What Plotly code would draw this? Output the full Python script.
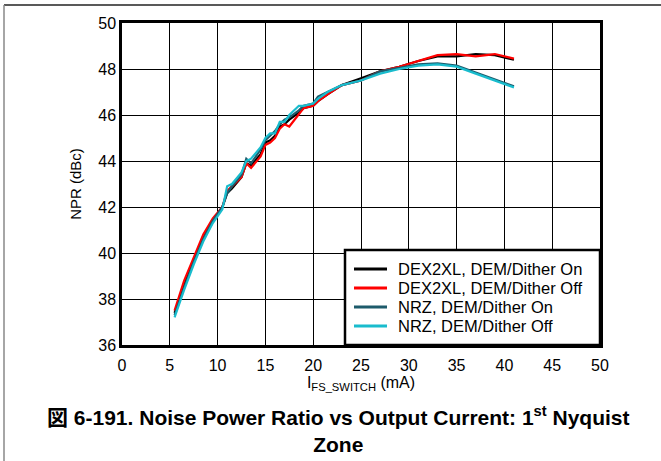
import plotly.graph_objects as go

# Output current (mA)
x_ma = [5.5, 6.5, 7.5, 8.5, 9.5, 10.5, 11.0, 11.5, 12.5, 13.0, 13.5, 14.5, 15.0, 15.5,
        16.0, 16.5, 17.0, 17.5, 18.5, 19.0, 20.0, 20.5, 21.5, 23.0, 25.0, 27.0, 29.0,
        31.0, 33.0, 35.0, 37.0, 39.0, 41.0]

dex_on = [37.4, 38.6, 39.7, 40.7, 41.4, 42.0, 42.6, 42.8, 43.3, 43.9, 43.8, 44.3, 44.8, 44.9,
          45.1, 45.5, 45.6, 45.8, 46.1, 46.3, 46.4, 46.6, 46.9, 47.3, 47.6, 47.9, 48.1,
          48.35, 48.55, 48.55, 48.65, 48.6, 48.4]
dex_off = [37.5, 38.8, 39.8, 40.8, 41.5, 42.0, 42.7, 42.9, 43.3, 43.9, 43.7, 44.2, 44.7, 44.8,
           45.0, 45.4, 45.6, 45.5, 46.0, 46.3, 46.4, 46.6, 46.9, 47.3, 47.5, 47.9, 48.1,
           48.35, 48.6, 48.65, 48.55, 48.65, 48.45]
nrz_on = [37.3, 38.5, 39.6, 40.6, 41.4, 42.0, 42.6, 42.9, 43.4, 44.1, 43.9, 44.5, 44.9, 45.1,
          45.3, 45.6, 45.8, 45.9, 46.2, 46.4, 46.5, 46.8, 47.0, 47.3, 47.5, 47.9, 48.05,
          48.2, 48.25, 48.15, 47.85, 47.55, 47.25]
nrz_off = [37.2, 38.4, 39.5, 40.5, 41.3, 41.9, 42.9, 43.0, 43.5, 44.0, 44.1, 44.6, 45.0, 45.2,
           45.2, 45.7, 45.7, 46.0, 46.4, 46.4, 46.5, 46.7, 47.0, 47.3, 47.5, 47.8, 48.0,
           48.15, 48.2, 48.1, 47.8, 47.5, 47.2]

series_names = ["DEX2XL, DEM/Dither On", "DEX2XL, DEM/Dither Off",
                "NRZ, DEM/Dither On", "NRZ, DEM/Dither Off"]
series_values = [dex_on, dex_off, nrz_on, nrz_off]
series_colors = ["#000000", "#ff0000", "#1d5b6b", "#19bccd"]

x_ticks = [0, 5, 10, 15, 20, 25, 30, 35, 40, 45, 50]
y_ticks = [36, 38, 40, 42, 44, 46, 48, 50]

FONT = "Liberation Sans, Arial, sans-serif"

fig = go.Figure()
for name, vals, col in zip(series_names, series_values, series_colors):
    fig.add_trace(go.Scatter(x=x_ma, y=vals, mode="lines", name=name,
                             line=dict(color=col, width=2.2), showlegend=False))

L, R, T, B = 122, 61, 23, 116
W, H = 661, 461
pw = W - L - R
ph = H - T - B

def px_x(p):
    return (p - L) / pw

def px_y(p):
    return (H - B - p) / ph

shapes = [
    dict(type="line", xref="paper", yref="paper",
         x0=px_x(4), x1=px_x(661), y0=px_y(5), y1=px_y(5),
         line=dict(color="#222222", width=1.5)),
    dict(type="line", xref="paper", yref="paper",
         x0=px_x(4), x1=px_x(4), y0=px_y(5), y1=px_y(461),
         line=dict(color="#888888", width=1.5)),
    # legend box
    dict(type="rect", xref="paper", yref="paper", layer="above",
         x0=px_x(345), x1=px_x(600), y0=px_y(345), y1=px_y(250),
         fillcolor="white", line=dict(color="black", width=2.5)),
]
annotations = []
legend_rows = [269, 288, 307, 326]
for name, col, ry in zip(series_names, series_colors, legend_rows):
    shapes.append(dict(type="line", xref="paper", yref="paper", layer="above",
                       x0=px_x(354), x1=px_x(387), y0=px_y(ry), y1=px_y(ry),
                       line=dict(color=col, width=3)))
    annotations.append(dict(text=name, xref="paper", yref="paper",
                            x=px_x(396), y=px_y(ry), xanchor="left", yanchor="middle",
                            showarrow=False, font=dict(size=16.5, family=FONT, color="black")))

annotations.append(dict(
    text="図 6-191. Noise Power Ratio vs Output Current: 1<sup>st</sup> Nyquist<br>Zone",
    xref="paper", yref="paper", x=px_x(338), y=px_y(429),
    xanchor="center", yanchor="middle", showarrow=False, align="center",
    font=dict(size=21, family="Liberation Sans, Noto Sans CJK JP, sans-serif",
              color="black", weight="bold")))

fig.update_layout(
    width=W, height=H,
    margin=dict(l=L, r=R, t=T, b=B, pad=0),
    paper_bgcolor="white", plot_bgcolor="white",
    font=dict(family=FONT, size=16, color="black"),
    showlegend=False,
    xaxis=dict(range=[0, 50], tickvals=x_ticks, ticktext=[str(v) for v in x_ticks],
               showgrid=True, gridcolor="black", gridwidth=1,
               showline=True, linecolor="black", linewidth=2.5, mirror=True,
               ticks="", zeroline=False, tickfont=dict(size=16), ticklabelstandoff=4,
               title=dict(text="I<sub>FS_SWITCH</sub> (mA)", font=dict(size=16), standoff=4)),
    yaxis=dict(range=[36, 50], tickvals=y_ticks, ticktext=[str(v) for v in y_ticks],
               showgrid=True, gridcolor="black", gridwidth=1,
               showline=True, linecolor="black", linewidth=2.5, mirror=True,
               ticks="", zeroline=False, tickfont=dict(size=16),
               title=dict(text="NPR (dBc)", font=dict(size=15), standoff=14)),
    shapes=shapes,
    annotations=annotations,
)

fig.write_html("out.html",
               config={"displayModeBar": False},
               post_script="document.body.style.margin='0';document.body.style.overflow='hidden';")
